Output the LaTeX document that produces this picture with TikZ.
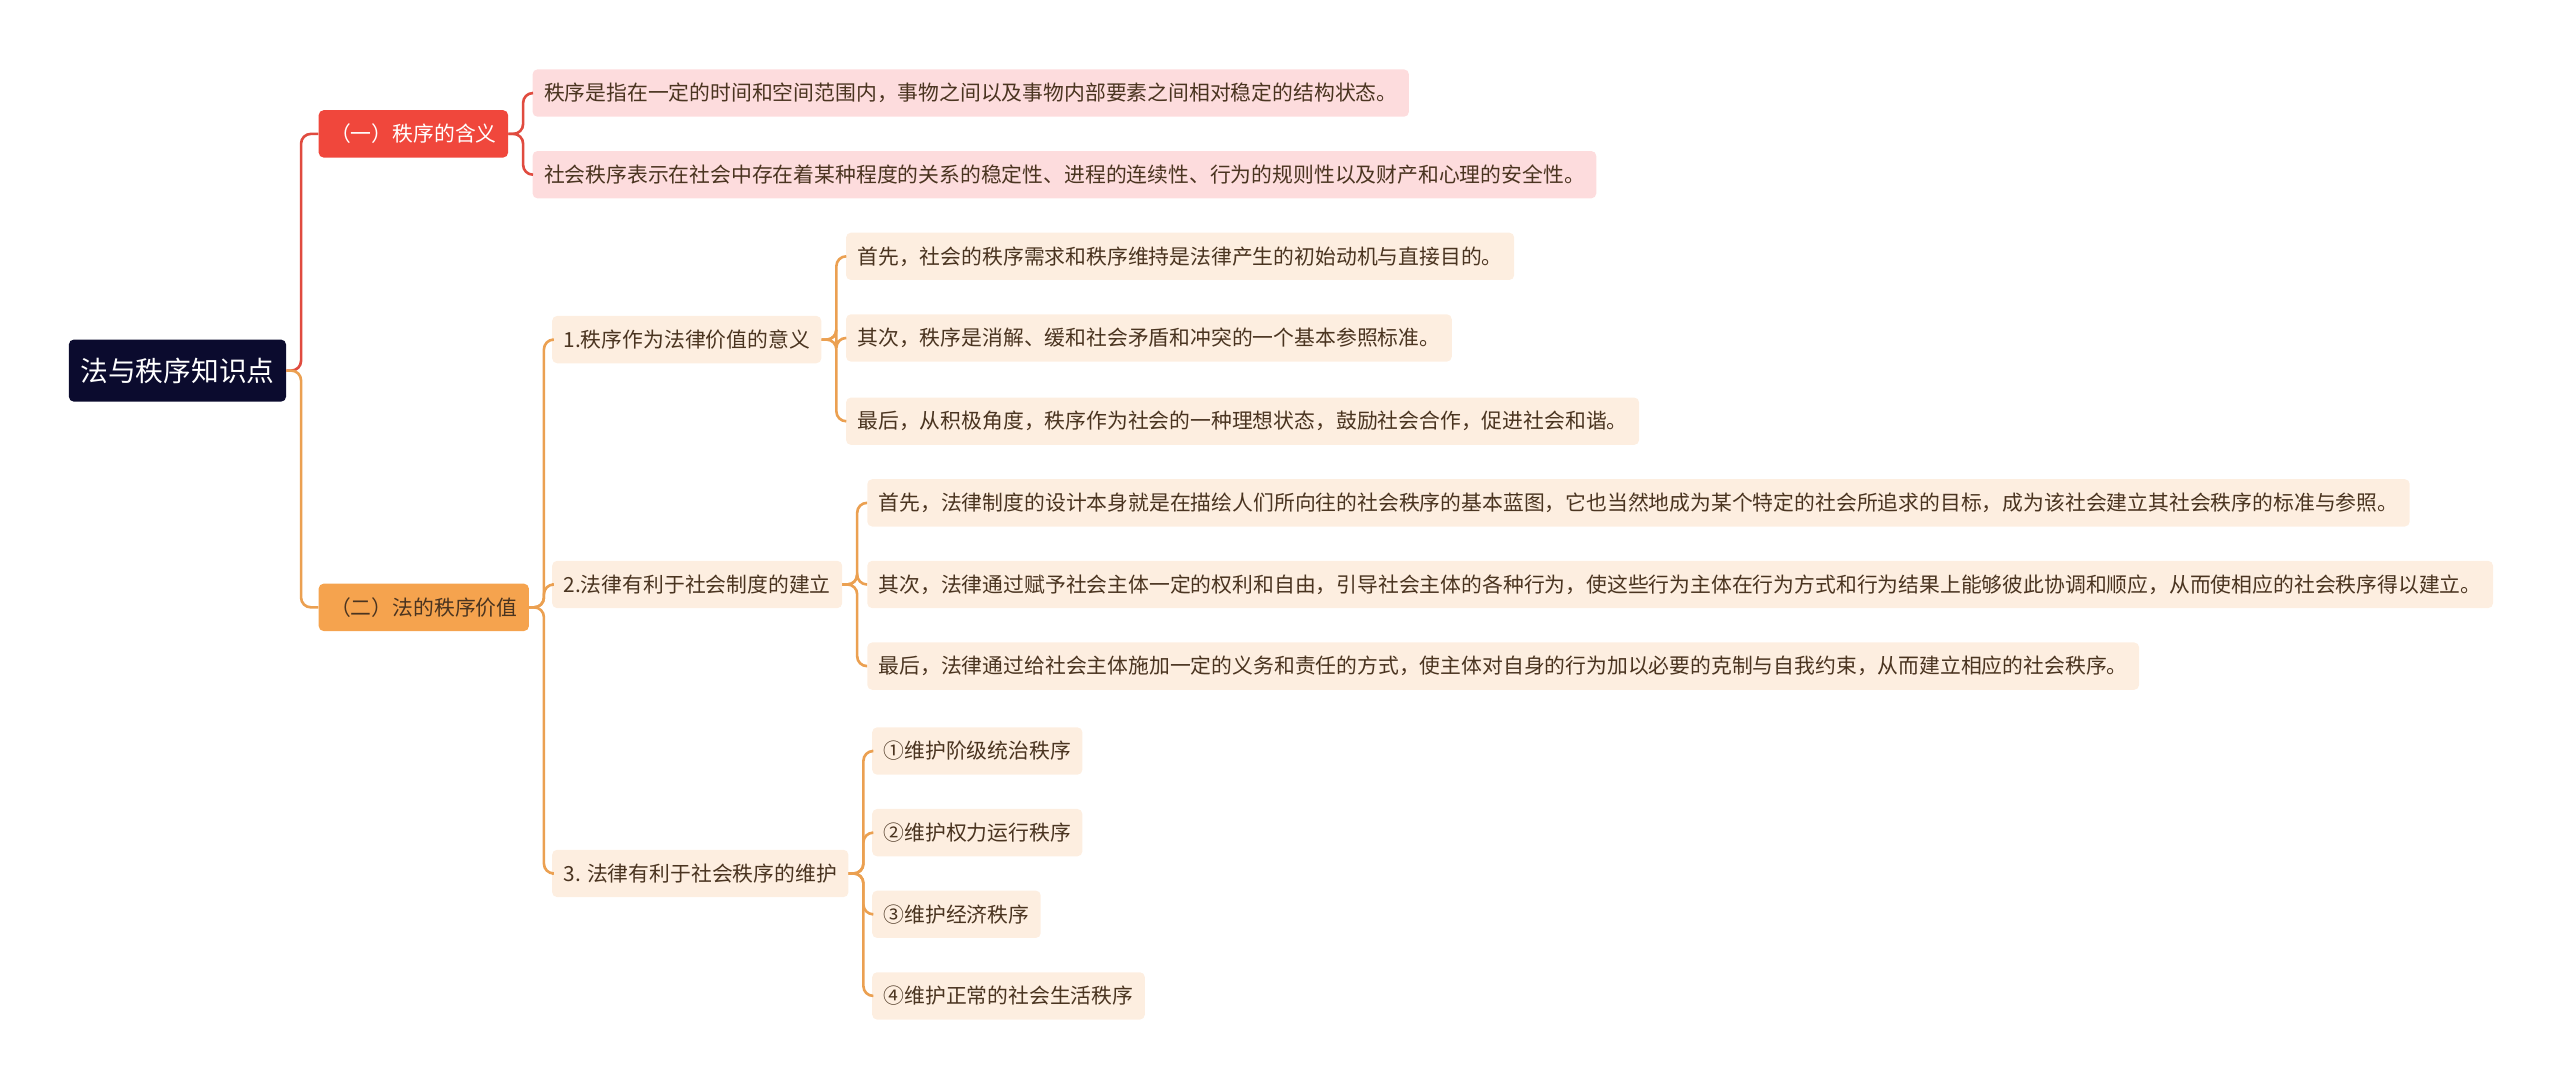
\documentclass[tikz,border=0pt]{standalone}
\usepackage{fontspec}
\newfontfamily\cjk{Noto Sans CJK SC}
\definecolor{rootbg}{HTML}{0B0B2E}
\definecolor{redbg}{HTML}{F0473C}
\definecolor{orgbg}{HTML}{F5A34E}
\definecolor{pinkbg}{HTML}{FDDCDD}
\definecolor{creambg}{HTML}{FDEEE0}
\definecolor{redln}{HTML}{E04B3F}
\definecolor{orgln}{HTML}{EBA051}
\definecolor{txt}{HTML}{4A3420}
\tikzset{
  box/.style={anchor=west,rounded corners=3,inner xsep=7,minimum height=29,font=\cjk\fontsize{12.75}{15}\selectfont,text=txt},
  rootbox/.style={box,fill=rootbg,text=white,font=\cjk\fontsize{17}{19}\selectfont,minimum height=38},
  redbox/.style={box,fill=redbg,text=white},
  orgbox/.style={box,fill=orgbg},
  pinkleaf/.style={box,fill=pinkbg},
  leaf/.style={box,fill=creambg},
  redlink/.style={draw=redln,line width=1.6,rounded corners=6},
  orglink/.style={draw=orgln,line width=1.6,rounded corners=6}
}
\begin{document}
\begin{tikzpicture}[x=1pt,y=1pt,yscale=-1]
\useasboundingbox (0,0) rectangle (1568,668);

%root
\node[rootbox] (root) at (42,227) {法与秩序知识点};

%first level
\node[redbox] (mean) at (195,82) {（一）秩序的含义};
\node[orgbox] (value) at (195,372) {（二）法的秩序价值};

%meaning
\node[pinkleaf] (m1) at (326,57) {秩序是指在一定的时间和空间范围内，事物之间以及事物内部要素之间相对稳定的结构状态。};
\node[pinkleaf] (m2) at (326,107) {社会秩序表示在社会中存在着某种程度的关系的稳定性、进程的连续性、行为的规则性以及财产和心理的安全性。};

%second level
\node[leaf] (v1) at (338,208) {1.秩序作为法律价值的意义};
\node[leaf] (v2) at (338,358) {2.法律有利于社会制度的建立};
\node[leaf] (v3) at (338,535) {3. 法律有利于社会秩序的维护};

%leaves
\node[leaf] (a1) at (518,157) {首先，社会的秩序需求和秩序维持是法律产生的初始动机与直接目的。};
\node[leaf] (a2) at (518,207) {其次，秩序是消解、缓和社会矛盾和冲突的一个基本参照标准。};
\node[leaf] (a3) at (518,258) {最后，从积极角度，秩序作为社会的一种理想状态，鼓励社会合作，促进社会和谐。};
\node[leaf] (b1) at (531,308) {首先，法律制度的设计本身就是在描绘人们所向往的社会秩序的基本蓝图，它也当然地成为某个特定的社会所追求的目标，成为该社会建立其社会秩序的标准与参照。};
\node[leaf] (b2) at (531,358) {其次，法律通过赋予社会主体一定的权利和自由，引导社会主体的各种行为，使这些行为主体在行为方式和行为结果上能够彼此协调和顺应，从而使相应的社会秩序得以建立。};
\node[leaf] (b3) at (531,408) {最后，法律通过给社会主体施加一定的义务和责任的方式，使主体对自身的行为加以必要的克制与自我约束，从而建立相应的社会秩序。};
\node[leaf] (c1) at (534,460) {①维护阶级统治秩序};
\node[leaf] (c2) at (534,510) {②维护权力运行秩序};
\node[leaf] (c3) at (534,560) {③维护经济秩序};
\node[leaf] (c4) at (534,610) {④维护正常的社会生活秩序};

%links
\path[redlink] (root.east) -- ++(9,0) |- (mean.west);
\path[orglink] (root.east) -- ++(9,0) |- (value.west);
\foreach \n in {m1,m2}
  \path[redlink] (mean.east) -- ++(9,0) |- (\n.west);
\foreach \n in {v1,v2,v3}
  \path[orglink] (value.east) -- ++(9,0) |- (\n.west);
\foreach \n in {a1,a2,a3}
  \path[orglink] (v1.east) -- ++(9,0) |- (\n.west);
\foreach \n in {b1,b2,b3}
  \path[orglink] (v2.east) -- ++(9,0) |- (\n.west);
\foreach \n in {c1,c2,c3,c4}
  \path[orglink] (v3.east) -- ++(9,0) |- (\n.west);
\end{tikzpicture}
\end{document}
